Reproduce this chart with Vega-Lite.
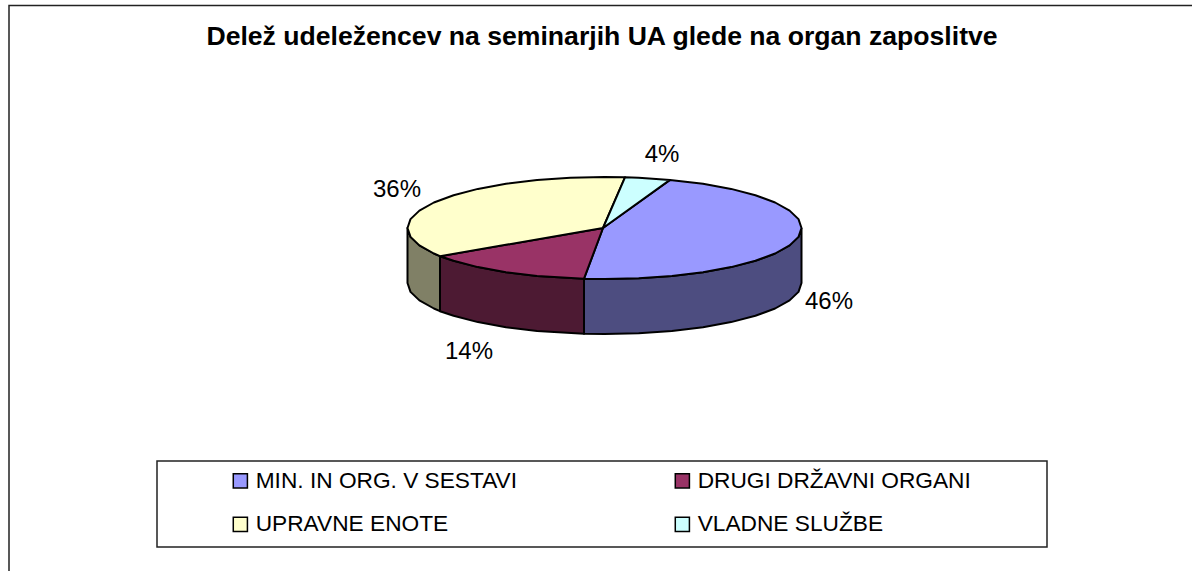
{
"$schema":"https://vega.github.io/schema/vega-lite/v6.json",
"width":1192,"height":571,"padding":0,"autosize":"none",
"background":"white",
"view":{"stroke":null},
"config":{"font":"Liberation Sans"},
"title":{"text":"Delež udeležencev na seminarjih UA glede na organ zaposlitve","font":"Liberation Sans","fontSize":26.6,"fontWeight":"bold","color":"#000000","anchor":"middle","frame":"group","offset":-51,"dx":6},
"datasets":{
"boxes":[{"box":"frame","x":9,"x2":1210,"y":5.5,"y2":590},{"box":"legend","x":157,"x2":1047,"y":461,"y2":547}],
"walls":[
{"organ":"MIN. IN ORG. V SESTAVI","i":1,"x":801.5,"y":228},{"organ":"MIN. IN ORG. V SESTAVI","i":2,"x":798.5,"y":236.9},{"organ":"MIN. IN ORG. V SESTAVI","i":3,"x":789.6,"y":245.4},{"organ":"MIN. IN ORG. V SESTAVI","i":4,"x":775.1,"y":253.5},{"organ":"MIN. IN ORG. V SESTAVI","i":5,"x":755.4,"y":260.8},{"organ":"MIN. IN ORG. V SESTAVI","i":6,"x":731.1,"y":267.1},{"organ":"MIN. IN ORG. V SESTAVI","i":7,"x":703,"y":272.2},{"organ":"MIN. IN ORG. V SESTAVI","i":8,"x":671.9,"y":275.9},{"organ":"MIN. IN ORG. V SESTAVI","i":9,"x":638.7,"y":278.2},{"organ":"MIN. IN ORG. V SESTAVI","i":10,"x":604.5,"y":279},{"organ":"MIN. IN ORG. V SESTAVI","i":11,"x":584,"y":278.7},{"organ":"MIN. IN ORG. V SESTAVI","i":12,"x":584,"y":333.7},{"organ":"MIN. IN ORG. V SESTAVI","i":13,"x":604.5,"y":334},{"organ":"MIN. IN ORG. V SESTAVI","i":14,"x":638.7,"y":333.2},{"organ":"MIN. IN ORG. V SESTAVI","i":15,"x":671.9,"y":330.9},{"organ":"MIN. IN ORG. V SESTAVI","i":16,"x":703,"y":327.2},{"organ":"MIN. IN ORG. V SESTAVI","i":17,"x":731.1,"y":322.1},{"organ":"MIN. IN ORG. V SESTAVI","i":18,"x":755.4,"y":315.8},{"organ":"MIN. IN ORG. V SESTAVI","i":19,"x":775.1,"y":308.5},{"organ":"MIN. IN ORG. V SESTAVI","i":20,"x":789.6,"y":300.4},{"organ":"MIN. IN ORG. V SESTAVI","i":21,"x":798.5,"y":291.9},{"organ":"MIN. IN ORG. V SESTAVI","i":22,"x":801.5,"y":283},{"organ":"MIN. IN ORG. V SESTAVI","i":23,"x":801.5,"y":228},
{"organ":"DRUGI DRŽAVNI ORGANI","i":1,"x":584,"y":278.7},{"organ":"DRUGI DRŽAVNI ORGANI","i":2,"x":537.1,"y":275.9},{"organ":"DRUGI DRŽAVNI ORGANI","i":3,"x":506,"y":272.2},{"organ":"DRUGI DRŽAVNI ORGANI","i":4,"x":477.9,"y":267.1},{"organ":"DRUGI DRŽAVNI ORGANI","i":5,"x":453.6,"y":260.8},{"organ":"DRUGI DRŽAVNI ORGANI","i":6,"x":440,"y":256.2},{"organ":"DRUGI DRŽAVNI ORGANI","i":7,"x":440,"y":311.2},{"organ":"DRUGI DRŽAVNI ORGANI","i":8,"x":453.6,"y":315.8},{"organ":"DRUGI DRŽAVNI ORGANI","i":9,"x":477.9,"y":322.1},{"organ":"DRUGI DRŽAVNI ORGANI","i":10,"x":506,"y":327.2},{"organ":"DRUGI DRŽAVNI ORGANI","i":11,"x":537.1,"y":330.9},{"organ":"DRUGI DRŽAVNI ORGANI","i":12,"x":584,"y":333.7},{"organ":"DRUGI DRŽAVNI ORGANI","i":13,"x":584,"y":278.7},
{"organ":"UPRAVNE ENOTE","i":1,"x":440,"y":256.2},{"organ":"UPRAVNE ENOTE","i":2,"x":433.9,"y":253.5},{"organ":"UPRAVNE ENOTE","i":3,"x":419.4,"y":245.4},{"organ":"UPRAVNE ENOTE","i":4,"x":410.5,"y":236.9},{"organ":"UPRAVNE ENOTE","i":5,"x":407.5,"y":228},{"organ":"UPRAVNE ENOTE","i":6,"x":407.5,"y":283},{"organ":"UPRAVNE ENOTE","i":7,"x":410.5,"y":291.9},{"organ":"UPRAVNE ENOTE","i":8,"x":419.4,"y":300.4},{"organ":"UPRAVNE ENOTE","i":9,"x":433.9,"y":308.5},{"organ":"UPRAVNE ENOTE","i":10,"x":440,"y":311.2},{"organ":"UPRAVNE ENOTE","i":11,"x":440,"y":256.2}
],
"tops":[
{"organ":"MIN. IN ORG. V SESTAVI","i":1,"x":603,"y":228},{"organ":"MIN. IN ORG. V SESTAVI","i":2,"x":670,"y":179.9},{"organ":"MIN. IN ORG. V SESTAVI","i":3,"x":703,"y":183.8},{"organ":"MIN. IN ORG. V SESTAVI","i":4,"x":731.1,"y":188.9},{"organ":"MIN. IN ORG. V SESTAVI","i":5,"x":755.4,"y":195.2},{"organ":"MIN. IN ORG. V SESTAVI","i":6,"x":775.1,"y":202.5},{"organ":"MIN. IN ORG. V SESTAVI","i":7,"x":789.6,"y":210.6},{"organ":"MIN. IN ORG. V SESTAVI","i":8,"x":798.5,"y":219.1},{"organ":"MIN. IN ORG. V SESTAVI","i":9,"x":801.5,"y":228},{"organ":"MIN. IN ORG. V SESTAVI","i":10,"x":798.5,"y":236.9},{"organ":"MIN. IN ORG. V SESTAVI","i":11,"x":789.6,"y":245.4},{"organ":"MIN. IN ORG. V SESTAVI","i":12,"x":775.1,"y":253.5},{"organ":"MIN. IN ORG. V SESTAVI","i":13,"x":755.4,"y":260.8},{"organ":"MIN. IN ORG. V SESTAVI","i":14,"x":731.1,"y":267.1},{"organ":"MIN. IN ORG. V SESTAVI","i":15,"x":703,"y":272.2},{"organ":"MIN. IN ORG. V SESTAVI","i":16,"x":671.9,"y":275.9},{"organ":"MIN. IN ORG. V SESTAVI","i":17,"x":638.7,"y":278.2},{"organ":"MIN. IN ORG. V SESTAVI","i":18,"x":604.5,"y":279},{"organ":"MIN. IN ORG. V SESTAVI","i":19,"x":584,"y":278.7},{"organ":"MIN. IN ORG. V SESTAVI","i":20,"x":603,"y":228},
{"organ":"DRUGI DRŽAVNI ORGANI","i":1,"x":603,"y":228},{"organ":"DRUGI DRŽAVNI ORGANI","i":2,"x":584,"y":278.7},{"organ":"DRUGI DRŽAVNI ORGANI","i":3,"x":537.1,"y":275.9},{"organ":"DRUGI DRŽAVNI ORGANI","i":4,"x":506,"y":272.2},{"organ":"DRUGI DRŽAVNI ORGANI","i":5,"x":477.9,"y":267.1},{"organ":"DRUGI DRŽAVNI ORGANI","i":6,"x":453.6,"y":260.8},{"organ":"DRUGI DRŽAVNI ORGANI","i":7,"x":440,"y":256.2},{"organ":"DRUGI DRŽAVNI ORGANI","i":8,"x":603,"y":228},
{"organ":"UPRAVNE ENOTE","i":1,"x":603,"y":228},{"organ":"UPRAVNE ENOTE","i":2,"x":440,"y":256.2},{"organ":"UPRAVNE ENOTE","i":3,"x":433.9,"y":253.5},{"organ":"UPRAVNE ENOTE","i":4,"x":419.4,"y":245.4},{"organ":"UPRAVNE ENOTE","i":5,"x":410.5,"y":236.9},{"organ":"UPRAVNE ENOTE","i":6,"x":407.5,"y":228},{"organ":"UPRAVNE ENOTE","i":7,"x":410.5,"y":219.1},{"organ":"UPRAVNE ENOTE","i":8,"x":419.4,"y":210.6},{"organ":"UPRAVNE ENOTE","i":9,"x":433.9,"y":202.5},{"organ":"UPRAVNE ENOTE","i":10,"x":453.6,"y":195.2},{"organ":"UPRAVNE ENOTE","i":11,"x":477.9,"y":188.9},{"organ":"UPRAVNE ENOTE","i":12,"x":506,"y":183.8},{"organ":"UPRAVNE ENOTE","i":13,"x":537.1,"y":180.1},{"organ":"UPRAVNE ENOTE","i":14,"x":570.3,"y":177.8},{"organ":"UPRAVNE ENOTE","i":15,"x":604.5,"y":177},{"organ":"UPRAVNE ENOTE","i":16,"x":625,"y":177.3},{"organ":"UPRAVNE ENOTE","i":17,"x":603,"y":228},
{"organ":"VLADNE SLUŽBE","i":1,"x":603,"y":228},{"organ":"VLADNE SLUŽBE","i":2,"x":625,"y":177.3},{"organ":"VLADNE SLUŽBE","i":3,"x":638.7,"y":177.8},{"organ":"VLADNE SLUŽBE","i":4,"x":670,"y":179.9},{"organ":"VLADNE SLUŽBE","i":5,"x":603,"y":228}
],
"labels":[{"organ":"MIN. IN ORG. V SESTAVI","label":"46%","x":829,"y":302},{"organ":"DRUGI DRŽAVNI ORGANI","label":"14%","x":469,"y":352},{"organ":"UPRAVNE ENOTE","label":"36%","x":397,"y":190},{"organ":"VLADNE SLUŽBE","label":"4%","x":662,"y":155}]
},
"encoding":{
"x":{"field":"x","type":"quantitative","scale":{"domain":[0,1192],"nice":false,"zero":false},"axis":null},
"y":{"field":"y","type":"quantitative","scale":{"domain":[571,0],"nice":false,"zero":false},"axis":null}
},
"layer":[
{"data":{"name":"boxes"},"mark":{"type":"rect","fill":"white","stroke":"#222222","strokeWidth":1.5,"clip":true},
 "encoding":{"x2":{"field":"x2"},"y2":{"field":"y2"}}},
{"data":{"name":"walls"},"mark":{"type":"line","stroke":"#000000","strokeWidth":2,"strokeJoin":"round","interpolate":"linear"},
 "encoding":{"order":{"field":"i","type":"quantitative"},"detail":{"field":"organ"},
  "fill":{"field":"organ","type":"nominal","legend":null,"scale":{"domain":["MIN. IN ORG. V SESTAVI","DRUGI DRŽAVNI ORGANI","UPRAVNE ENOTE"],"range":["#4D4D80","#4D1A33","#808066"]}}}},
{"data":{"name":"tops"},"mark":{"type":"line","stroke":"#000000","strokeWidth":2,"strokeJoin":"round","interpolate":"linear"},
 "encoding":{"order":{"field":"i","type":"quantitative"},"detail":{"field":"organ"},
  "fill":{"field":"organ","type":"nominal","scale":{"domain":["MIN. IN ORG. V SESTAVI","DRUGI DRŽAVNI ORGANI","UPRAVNE ENOTE","VLADNE SLUŽBE"],"range":["#9999FF","#993366","#FFFFCC","#CCFFFF"]},
   "legend":{"title":null,"orient":"none","direction":"horizontal","legendX":229,"legendY":469,"columns":2,"symbolType":"square","symbolSize":200,"symbolStrokeColor":"#000000","symbolStrokeWidth":1.5,"labelFont":"Liberation Sans","labelFontSize":22.7,"labelColor":"#000000","labelOffset":4,"labelLimit":400,"rowPadding":20,"columnPadding":142,"padding":0,"gridAlign":"all"}}}},
{"data":{"name":"labels"},"mark":{"type":"text","font":"Liberation Sans","fontSize":24,"color":"#000000","align":"center","baseline":"middle"},
 "encoding":{"text":{"field":"label"}}}
],
"resolve":{"scale":{"fill":"independent"}}
}
